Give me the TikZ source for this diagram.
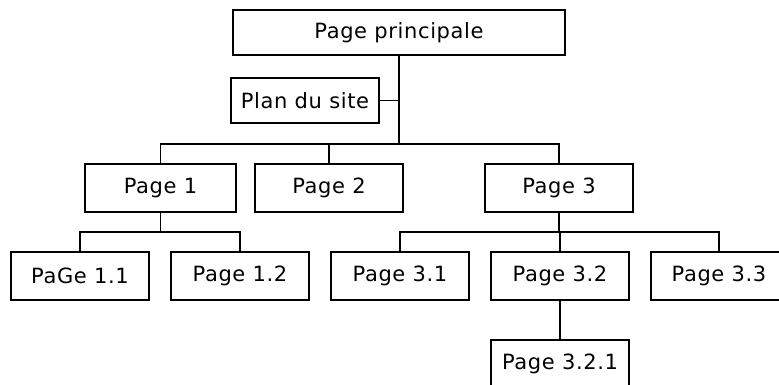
\documentclass[tikz,border=0pt]{standalone}
\usepackage{fontspec}
\setmainfont{DejaVu Sans}[LetterSpace=3]
\begin{document}
\begin{tikzpicture}[x=1pt,y=-1pt,
  pagebox/.style={draw=black,line width=1.5pt,fill=white,inner sep=0pt,
    minimum height=48pt,minimum width=138pt,
    font=\fontsize{21}{25}\selectfont},
  link/.style={draw=black,line width=1.5pt}]
\useasboundingbox (0,0) rectangle (779,385);
\clip (0,0) rectangle (779,385);
\node[pagebox,minimum width=332pt,minimum height=45pt] (main) at (399,32.5) {Page principale};
\node[pagebox,minimum width=148pt,minimum height=45pt] (plan) at (305,100.5) {Plan du site};
\node[pagebox,minimum width=151pt] (p1) at (160.5,188) {Page 1};
\node[pagebox,minimum width=148pt] (p2) at (329,188) {Page 2};
\node[pagebox,minimum width=148pt] (p3) at (559,188) {Page 3};
\node[pagebox] (p11) at (80,276) {PaGe 1.1};
\node[pagebox] (p12) at (240,276) {Page 1.2};
\node[pagebox] (p31) at (400,276) {Page 3.1};
\node[pagebox] (p32) at (560,276) {Page 3.2};
\node[pagebox,minimum width=136pt] (p33) at (719,276) {Page 3.3};
\node[pagebox] (p321) at (560,364) {Page 3.2.1};
\coordinate (bus0) at (399,144);
\coordinate (b1) at (160.5,232);
\coordinate (b3) at (559,232);
\draw[link] (main.south) -- (bus0);
\draw[link] (plan.east) -- (plan.east -| bus0);
\draw[link] (p1.north) |- (bus0) -| (p3.north);
\draw[link] (p2.north) -- (p2.north |- bus0);
\draw[link] (p1.south) -- (b1);
\draw[link] (p11.north) |- (b1) -| (p12.north);
\draw[link] (p3.south) -- (b3);
\draw[link] (p31.north) |- (b3) -| (p33.north);
\draw[link] (p32.north) -- (p32.north |- b3);
\draw[link] (p32.south) -- (p321.north);
\end{tikzpicture}
\end{document}
